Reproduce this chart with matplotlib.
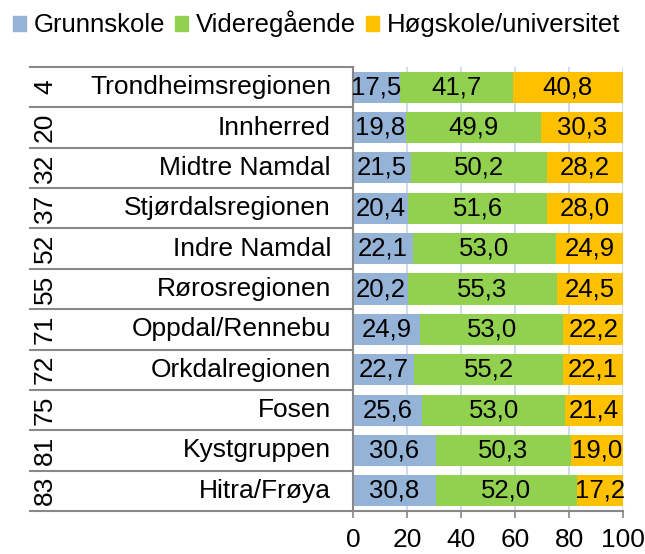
import matplotlib.pyplot as plt
from matplotlib.patches import Patch

plt.rcParams['font.family'] = ['Liberation Sans', 'DejaVu Sans']

ranks = ['4', '20', '32', '37', '52', '55', '71', '72', '75', '81', '83']
regions = ['Trondheimsregionen', 'Innherred', 'Midtre Namdal', 'Stjørdalsregionen',
           'Indre Namdal', 'Rørosregionen', 'Oppdal/Rennebu', 'Orkdalregionen',
           'Fosen', 'Kystgruppen', 'Hitra/Frøya']
grunnskole = [17.5, 19.8, 21.5, 20.4, 22.1, 20.2, 24.9, 22.7, 25.6, 30.6, 30.8]
videregaende = [41.7, 49.9, 50.2, 51.6, 53.0, 55.3, 53.0, 55.2, 53.0, 50.3, 52.0]
hogskole = [40.8, 30.3, 28.2, 28.0, 24.9, 24.5, 22.2, 22.1, 21.4, 19.0, 17.2]
series_names = ['Grunnskole', 'Videregående', 'Høgskole/universitet']
colors = ['#95B3D7', '#92D050', '#FFC000']
xticks = [0, 20, 40, 60, 80, 100]

fs = 19
fig = plt.figure(figsize=(6.45, 5.54), dpi=100)
ax = fig.add_axes([353/645, 1-511/554, 270/645, 444/554])

n = len(regions)
ypos = [n - 1 - i for i in range(n)]
left = [0] * n
for vals, col in zip([grunnskole, videregaende, hogskole], colors):
    ax.barh(ypos, vals, left=left, height=0.77, color=col, zorder=2)
    for y, l, v in zip(ypos, left, vals):
        ax.text(l + v / 2, y, f'{v:.1f}'.replace('.', ','), ha='center', va='center',
                fontsize=18.5, zorder=3)
    left = [a + b for a, b in zip(left, vals)]

ax.set_xlim(0, 100)
ax.set_ylim(-0.5, n - 0.5)
ax.set_xticks(xticks)
ax.set_xticklabels([str(t) for t in xticks], fontsize=fs)
ax.set_yticks([])
ax.tick_params(axis='x', length=5, width=1.2, color='#888888', pad=7)
ax.grid(axis='x', color='#C6D6EA', lw=1.2, zorder=0)
for s in ['top', 'right']:
    ax.spines[s].set_visible(False)
for s in ['left', 'bottom']:
    ax.spines[s].set_color('#888888')
    ax.spines[s].set_linewidth(1.5)

# category label area
trans = ax.get_yaxis_transform()
x_left = (30 - 353) / 270
x_num = (45 - 353) / 270
x_name = (331 - 353) / 270
for k in range(n + 1):
    yb = k - 0.5
    ax.plot([x_left, 0], [yb, yb], transform=trans, color='#888888', lw=1.5,
            clip_on=False, zorder=1)
for y, r, name in zip(ypos, ranks, regions):
    ax.text(x_num, y, r, transform=trans, rotation=90, ha='center', va='center',
            fontsize=fs)
    ax.text(x_name, y, name, transform=trans, ha='right', va='center', fontsize=fs)

handles = [Patch(color=c) for c in colors]
fig.legend(handles, series_names, loc='upper left', bbox_to_anchor=(0.012, 0.99),
           ncol=3, frameon=False, fontsize=18.5, handlelength=0.5, handleheight=0.5,
           handletextpad=0.3, columnspacing=0.4, borderaxespad=0.0,
           borderpad=0.2)

fig.savefig('out.png', dpi=100)
